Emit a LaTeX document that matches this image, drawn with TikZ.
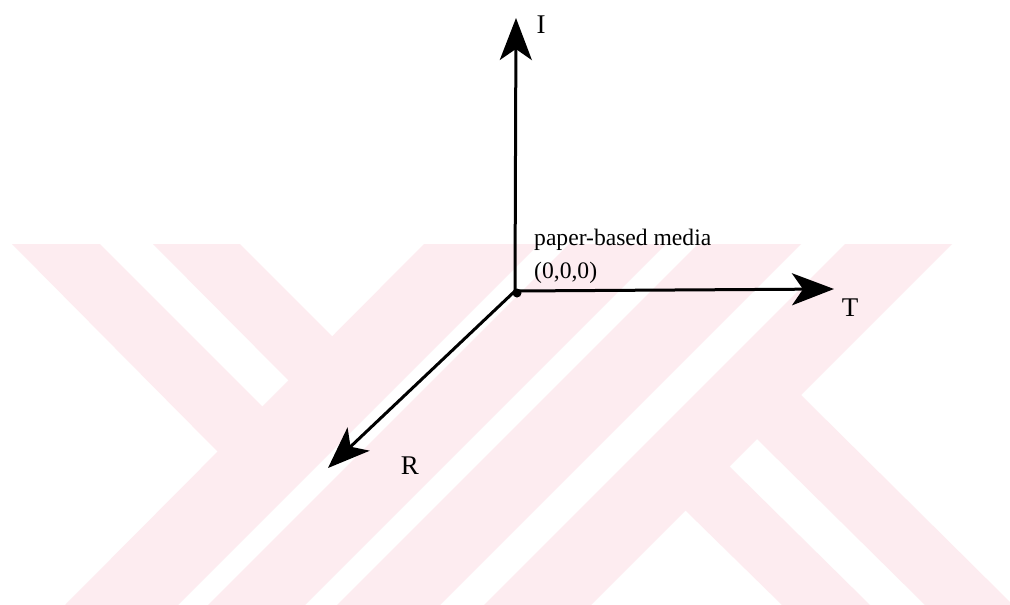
\documentclass[tikz,border=0pt]{standalone}
\usepackage{fontspec}
\setmainfont{Liberation Serif}
\usetikzlibrary{arrows.meta}
\definecolor{markpink}{RGB}{253,236,240}
\tikzset{
  axis/.style={line width=3pt, -{Stealth[length=42pt,width=32pt,inset=11pt]}},
  band/.style={fill=markpink, draw=none},
  axislabel/.style={font=\fontsize{27}{31}\selectfont, inner sep=0pt},
  note/.style={font=\fontsize{23.6}{28}\selectfont, inner sep=0pt, anchor=base west},
  origindot/.style={circle, fill=black, inner sep=0pt, minimum size=9pt},
}
\begin{document}
\begin{tikzpicture}[x=1pt,y=-1pt]
\useasboundingbox (0,0) rectangle (1010,605);
\fill[white] (0,0) rectangle (1010,605);

% background emblem made of diagonal bands
\begin{scope}
  \clip (0,244) rectangle (1010,605);
  % left pair of falling bands
  \fill[band] (12,244) -- (100,244) -- (264,408) -- (218,452) -- cycle;
  \fill[band] (153,244) -- (240,244) -- (334,338) -- (289,381) -- cycle;
  % rising bands
  \fill[band] (424,244) -- (539,244) -- (178,605) -- (65,605) -- cycle;
  \fill[band] (569,244) -- (666,244) -- (305,605) -- (208,605) -- cycle;
  \fill[band] (698,244) -- (801,244) -- (440,605) -- (337,605) -- cycle;
  \fill[band] (845,244) -- (952,244) -- (591,605) -- (484,605) -- cycle;
  % right pair of falling bands
  \fill[band] (685,510) -- (729,466) -- (870,605) -- (782,605) -- cycle;
  \fill[band] (756.5,438.5) -- (800.5,394.5) -- (1013,605) -- (925,605) -- cycle;
\end{scope}

% axes
\coordinate (o) at (515,291);
\coordinate (itip) at (516,18);
\coordinate (ttip) at (834,289);
\coordinate (rtip) at (328,468);

\draw[axis] (o) -- (itip);
\draw[axis] (o) -- (ttip);
\draw[axis] (o) -- (rtip);
\node[origindot] (dot) at (517,293) {};

% labels
\node[axislabel] (ilab) at (541,25) {I};
\node[axislabel] (tlab) at (850,308) {T};
\node[axislabel] (rlab) at (410,466) {R};
\node[note] (media) at (534,245) {paper-based media};
\node[note] (zero) at (534,278) {(0,0,0)};
\end{tikzpicture}
\end{document}
